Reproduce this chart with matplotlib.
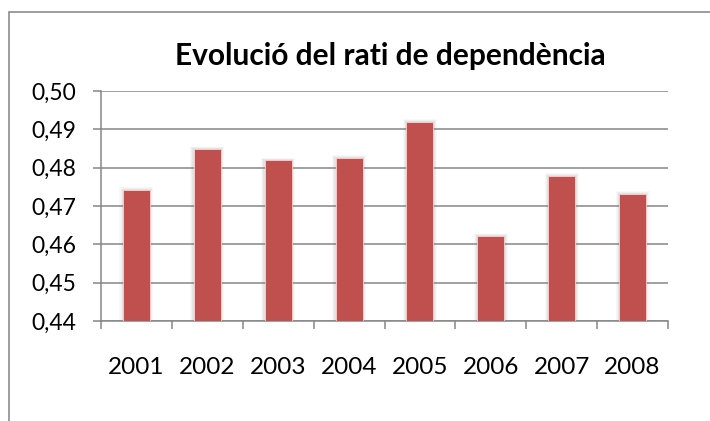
import numpy as np
import matplotlib.pyplot as plt
from matplotlib.patches import Rectangle
from matplotlib.ticker import FuncFormatter, MultipleLocator

anys = ["2001", "2002", "2003", "2004", "2005", "2006", "2007", "2008"]
rati = [0.4743, 0.4849, 0.4819, 0.4826, 0.4920, 0.4622, 0.4779, 0.4732]

BAR_CLR = "#C0504D"
GRID_CLR = "#868686"

plt.rcParams["font.family"] = ["Lato", "DejaVu Sans"]

fig = plt.figure(figsize=(7.10, 4.21), dpi=100)
ax = fig.add_axes([0.1423, 0.2375, 0.7985, 0.5463])

# marc del gràfic (tallat a la dreta i a baix)
fig.patches.append(Rectangle((9 / 710, -0.1), 1.2, 1 - 12 / 421 + 0.1,
                             transform=fig.transFigure, fill=False,
                             edgecolor="#8c8c8c", linewidth=1.2))

x = np.arange(len(anys))
# ombra suau de les barres
for dw, a in [(0.10, 0.05), (0.07, 0.07), (0.04, 0.09)]:
    ax.bar(x, np.array(rati) - 0.44 + dw * 0.006, width=0.38 + dw, bottom=0.44,
           color="#7f7f7f", alpha=a, linewidth=0, zorder=2)
ax.bar(x, np.array(rati) - 0.44, width=0.38, bottom=0.44, color=BAR_CLR,
       edgecolor="#f4d0cf", linewidth=0.6, zorder=3)

ax.set_xlim(-0.5, len(anys) - 0.5)
ax.set_ylim(0.44, 0.50)
ax.yaxis.set_major_locator(MultipleLocator(0.01))
ax.yaxis.set_major_formatter(FuncFormatter(lambda v, p: f"{v:.2f}".replace(".", ",")))
ax.grid(axis="y", color=GRID_CLR, linewidth=1.1, zorder=1)
ax.set_axisbelow(True)

ax.set_xticks(x)
ax.set_xticklabels(anys)
ax.set_xticks(np.arange(-0.5, len(anys)), minor=True)
ax.tick_params(axis="x", which="major", length=0, pad=26, labelsize=17.5)
ax.tick_params(axis="x", which="minor", length=6, width=1.1, color=GRID_CLR)
ax.tick_params(axis="y", length=6, width=1.1, color=GRID_CLR, labelsize=16.5, pad=12)

for s in ["top", "right"]:
    ax.spines[s].set_visible(False)
for s in ["left", "bottom"]:
    ax.spines[s].set_color(GRID_CLR)
    ax.spines[s].set_linewidth(1.1)

fig.text(0.55, 1 - 56 / 421, "Evolució del rati de dependència", ha="center",
         va="center", fontsize=21.5, fontweight="bold")

fig.savefig("out.png", dpi=100)
